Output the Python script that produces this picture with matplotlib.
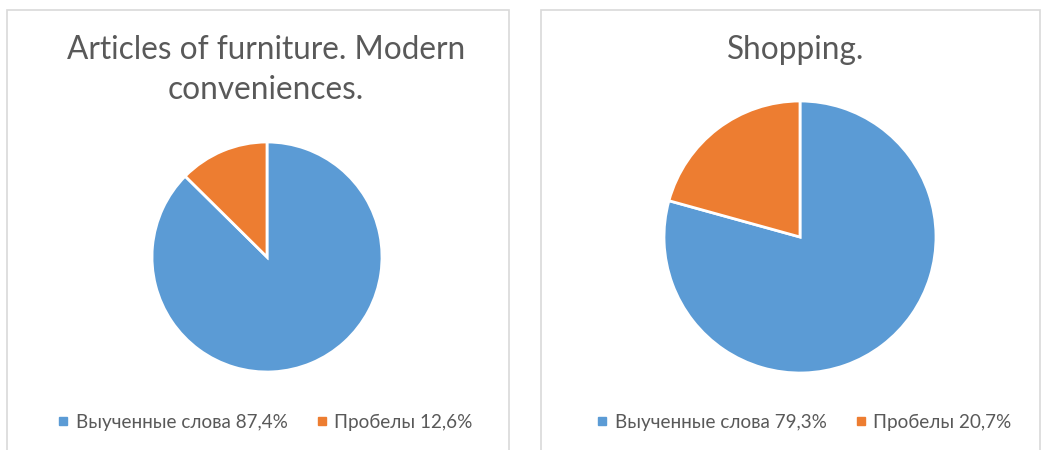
import matplotlib
matplotlib.use("Agg")
import matplotlib.pyplot as plt
from matplotlib.patches import Rectangle
from matplotlib.lines import Line2D

plt.rcParams['font.family'] = ['Lato', 'DejaVu Sans']

categories = ["Выученные слова", "Пробелы"]
left_title = "Articles of furniture. Modern\nconveniences."
left_values = [87.4, 12.6]
left_labels = ["87,4%", "12,6%"]
right_title = "Shopping."
right_values = [79.3, 20.7]
right_labels = ["79,3%", "20,7%"]
colors = ["#5B9BD5", "#ED7D31"]

W, H = 1049, 450
fig = plt.figure(figsize=(W / 100, H / 100), dpi=100)
fig.patch.set_facecolor("white")

def fx(x):
    return x / W

def fy(y):
    return 1 - y / H

# panel borders
for (x0, x1) in [(7, 509), (541, 1040)]:
    fig.patches.append(Rectangle((fx(x0), fy(460)), fx(x1 - x0), (460 - 10) / H,
                                 transform=fig.transFigure, fill=False,
                                 edgecolor="#D9D9D9", linewidth=1.2))

def draw_panel(cx, cy, r, values, title, tx, ty, labels, leg_x, leg_y):
    ax = fig.add_axes([fx(cx - r), fy(cy + r), fx(2 * r), 2 * r / H])
    ax.pie(values, colors=colors, startangle=90, counterclock=False,
           wedgeprops=dict(edgecolor="white", linewidth=2))
    ax.set_xlim(-1, 1)
    ax.set_ylim(-1, 1)
    ax.set_aspect("equal")
    ax.axis("off")
    fig.text(fx(tx), fy(ty), title, ha="center", va="center", fontsize=22.7,
             color="#595959", linespacing=1.45)
    handles = [Line2D([], [], marker="s", linestyle="none", markersize=6,
                      markerfacecolor=c, markeredgecolor=c) for c in colors]
    texts = [f"{c} {l}" for c, l in zip(categories, labels)]
    fig.legend(handles, texts, loc="center", bbox_to_anchor=(fx(leg_x), fy(leg_y)),
               ncol=2, frameon=False, fontsize=13.6, labelcolor="#595959",
               handlelength=0.6, handletextpad=0.35, columnspacing=1.5)

draw_panel(267, 257, 115, left_values, left_title, 266, 70, left_labels, 265, 422)
draw_panel(800, 237, 136, right_values, right_title, 796, 50, right_labels, 804, 422)

fig.savefig("out.png", dpi=100, facecolor="white")
